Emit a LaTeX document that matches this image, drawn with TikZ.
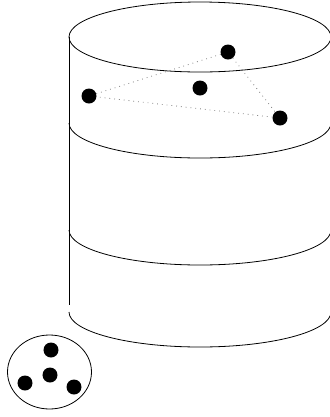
\documentclass[tikz,border=0pt]{standalone}
\usetikzlibrary{positioning}
\tikzset{
  rim/.style={line width=0.8bp, black},
  dot/.style={circle, fill=black, inner sep=0pt, minimum size=15bp},
  link/.style={dash pattern=on 0.8bp off 4bp, gray, line width=0.8bp},
}
\begin{document}
\begin{tikzpicture}[x=1bp,y=-1bp]
  \useasboundingbox (0,0) rectangle (330,417);
  % cylinder
  \draw[rim] (200,37) ellipse [x radius=131, y radius=35];
  \draw[rim] (69,37) -- (69,305);
  \foreach \y in {123,230,312} {
    \draw[rim] (69,\y) arc[start angle=180, end angle=0, x radius=131, y radius=35];
  }
  % points on the top
  \node[dot] (ta) at (89,96) {};
  \node[dot] (tb) at (228,52) {};
  \node[dot] (tc) at (200,88) {};
  \node[dot] (td) at (280,118) {};
  \draw[link] (ta) -- (tb) -- (td) -- (ta);
  % small set
  \draw[rim] (49.5,372) ellipse [x radius=42, y radius=37];
  \node[dot] (sa) at (51,350) {};
  \node[dot] (sb) at (50,375) {};
  \node[dot] (sc) at (25,383) {};
  \node[dot] (sd) at (74,387) {};
\end{tikzpicture}
\end{document}
